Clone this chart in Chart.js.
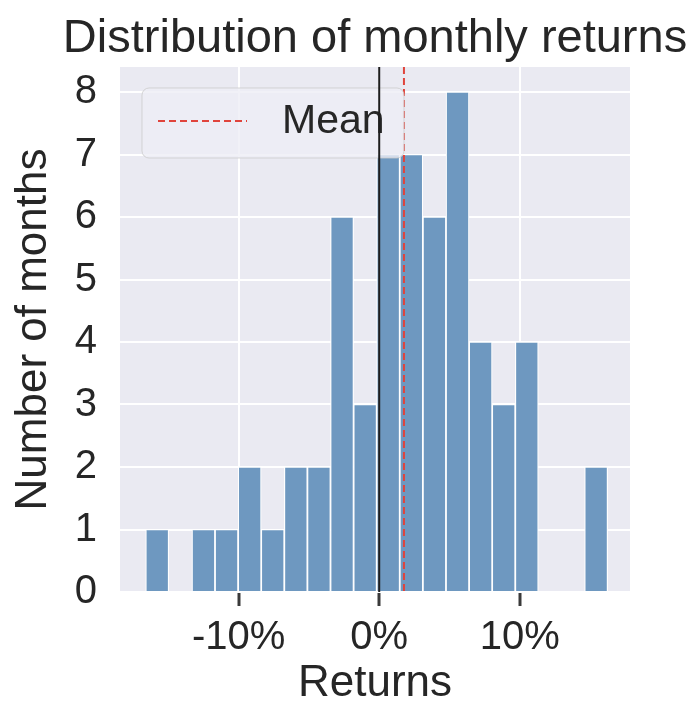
<!DOCTYPE html>
<html>
<head>
<meta charset="utf-8">
<script src="https://cdn.jsdelivr.net/npm/chart.js@4/dist/chart.umd.min.js"></script>
<style>
	html, body { margin: 0; padding: 0; background: #fff; }
</style>
</head>
<body>
<canvas id="grafico" width="695" height="706"></canvas>
<script>
// bin edges of the histogram (% return)
const binEdges = [-16.62, -14.98, -13.33, -11.69, -10.04, -8.40, -6.76, -5.11, -3.47, -1.82,
	-0.18, 1.46, 3.11, 4.75, 6.40, 8.04, 9.68, 11.33, 12.97, 14.62, 16.26];
// number of months in each bin
const binCounts = [1, 0, 1, 1, 2, 1, 2, 2, 6, 3, 7, 7, 6, 8, 4, 3, 4, 0, 0, 2];
const meanReturn = 1.76;
const zeroReturn = 0;
const xTickValues = [-10, 0, 10];
const yTickValues = [0, 1, 2, 3, 4, 5, 6, 7, 8];
const legendLabel = 'Mean';
const chartTitle = 'Distribution of monthly returns';

const fonte = '"Liberation Sans", Arial, sans-serif';
const corTexto = '#262626';
const corBarra = '#6e98c0';
const corMedia = '#e0443c';

const binCenters = binCounts.map((c, i) => (binEdges[i] + binEdges[i + 1]) / 2);

const fundo = {
	id: 'fundo',
	beforeDraw(chart) {
		const { ctx, chartArea: a } = chart;
		ctx.save();
		ctx.fillStyle = '#eaeaf2';
		ctx.fillRect(a.left, a.top, a.right - a.left, a.bottom - a.top);
		ctx.restore();
	}
};

const linhas = {
	id: 'linhas',
	afterDatasetsDraw(chart) {
		const { ctx, chartArea: a, scales: { x } } = chart;
		ctx.save();
		// mean line (dashed red)
		const xm = x.getPixelForValue(meanReturn);
		ctx.strokeStyle = corMedia;
		ctx.lineWidth = 2;
		ctx.setLineDash([7, 4]);
		ctx.beginPath();
		ctx.moveTo(xm, a.top);
		ctx.lineTo(xm, a.bottom);
		ctx.stroke();

		// legend box
		ctx.setLineDash([]);
		const lx = a.left + 22, ly = a.top + 21, lw = 262, lh = 70;
		ctx.beginPath();
		ctx.roundRect(lx, ly, lw, lh, 7);
		ctx.fillStyle = 'rgba(238,238,245,0.8)';
		ctx.fill();
		ctx.strokeStyle = 'rgba(204,204,204,0.8)';
		ctx.lineWidth = 1;
		ctx.stroke();

		ctx.strokeStyle = corMedia;
		ctx.lineWidth = 2;
		ctx.setLineDash([7, 4]);
		ctx.beginPath();
		ctx.moveTo(lx + 16, ly + 33);
		ctx.lineTo(lx + 105, ly + 33);
		ctx.stroke();
		ctx.setLineDash([]);
		ctx.fillStyle = corTexto;
		ctx.font = '41px ' + fonte;
		ctx.textBaseline = 'middle';
		ctx.fillText(legendLabel, lx + 140, ly + 34);

		// zero line (black)
		const x0 = x.getPixelForValue(zeroReturn);
		ctx.strokeStyle = '#1e1e1e';
		ctx.lineWidth = 2;
		ctx.beginPath();
		ctx.moveTo(x0, a.top);
		ctx.lineTo(x0, a.bottom);
		ctx.stroke();

		// title, centred over the plot area (wider than it)
		ctx.fillStyle = corTexto;
		ctx.font = '47px ' + fonte;
		ctx.textAlign = 'center';
		ctx.textBaseline = 'alphabetic';
		ctx.fillText(chartTitle, (a.left + a.right) / 2, 52);
		ctx.restore();
	}
};

const ctx = document.getElementById('grafico').getContext('2d');
const chart = new Chart(ctx, {
	type: 'bar',
	data: {
		datasets: [{
			label: 'Returns',
			data: binCenters.map((c, i) => ({ x: c, y: binCounts[i] })),
			backgroundColor: corBarra,
			borderColor: '#ffffff',
			borderWidth: 1.2,
			barPercentage: 1,
			categoryPercentage: 1
		}]
	},
	options: {
		responsive: false,
		animation: false,
		layout: { padding: { left: 0, right: 65, top: 67, bottom: 0 } },
		plugins: {
			legend: { display: false },
			tooltip: { enabled: false },
			title: { display: false }
		},
		scales: {
			x: {
				type: 'linear',
				min: -18.45,
				max: 17.85,
				offset: false,
				afterBuildTicks: s => { s.ticks = xTickValues.map(v => ({ value: v })); },
				afterFit: s => { s.height = 114; },
				grid: { offset: false, color: '#ffffff', lineWidth: 2, drawTicks: true, tickLength: 14, tickColor: '#3a3a3a', tickWidth: 3 },
				border: { display: false },
				ticks: { color: corTexto, font: { family: fonte, size: 40 }, padding: 8, maxRotation: 0, callback: v => v + '%' },
				title: { display: true, text: 'Returns', color: corTexto, font: { family: fonte, size: 44, lineHeight: 1 }, padding: 0 }
			},
			y: {
				min: 0,
				max: 8.4,
				afterBuildTicks: s => { s.ticks = yTickValues.map(v => ({ value: v })); },
				afterFit: s => { s.width = 120; },
				grid: { color: '#ffffff', lineWidth: 2, drawTicks: false },
				border: { display: false },
				ticks: { color: corTexto, font: { family: fonte, size: 40 }, padding: 23 },
				title: { display: true, text: 'Number of months', color: corTexto, font: { family: fonte, size: 44, lineHeight: 1 }, padding: { top: 12, bottom: 0 } }
			}
		}
	},
	plugins: [fundo, linhas]
});
</script>
</body>
</html>
